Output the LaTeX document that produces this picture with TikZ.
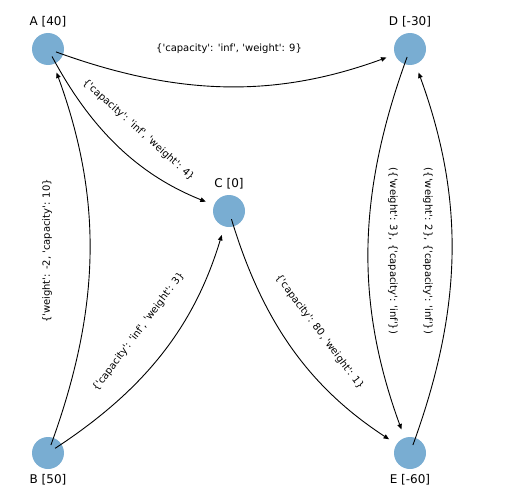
\documentclass[tikz,border=0pt]{standalone}
\usepackage{fontspec}
\setmainfont{DejaVu Sans}[Ligatures=TeXOff]
\usetikzlibrary{arrows.meta}
\definecolor{nodeblue}{RGB}{121,173,210}
\begin{document}
\begin{tikzpicture}[x=1pt,y=-1pt,
  vertex/.style={circle,fill=nodeblue,minimum size=32pt,inner sep=0pt},
  vlabel/.style={font=\fontsize{12}{14}\selectfont,inner sep=0pt},
  elabel/.style={font=\fontsize{10}{12}\selectfont,inner sep=0pt},
  edge/.style={draw=black,line width=0.9pt,-{Triangle[length=5.5pt,width=4.5pt]},
    shorten <=8.5pt,shorten >=25pt,bend right=20}]
\useasboundingbox (0,0) rectangle (516,503);
% nodes
\node[vertex] (A) at (48,49) {};
\node[vertex] (D) at (410,49) {};
\node[vertex] (C) at (229,211) {};
\node[vertex] (B) at (48,453) {};
\node[vertex] (E) at (410,453) {};
% node labels
\node[vlabel] (lA) at (48,22) {A [40]};
\node[vlabel] (lD) at (410,22) {D [-30]};
\node[vlabel] (lC) at (229,184) {C [0]};
\node[vlabel] (lB) at (48,480) {B [50]};
\node[vlabel] (lE) at (410,480) {E [-60]};
% edges
\draw[edge] (A.center) to (D.center);
\draw[edge] (A.center) to (C.center);
\draw[edge] (B.center) to (A.center);
\draw[edge] (B.center) to (C.center);
\draw[edge] (C.center) to (E.center);
\draw[edge] (D.center) to (E.center);
\draw[edge] (E.center) to (D.center);
% edge labels
\node[elabel] (tAD) at (229,49) {\{'capacity': 'inf', 'weight': 9\}};
\node[elabel,rotate=-41.8] (tAC) at (138.5,130) {\{'capacity': 'inf', 'weight': 4\}};
\node[elabel,rotate=90] (tBA) at (47,251) {\{'weight': -2, 'capacity': 10\}};
\node[elabel,rotate=53.2] (tBC) at (138.5,332) {\{'capacity': 'inf', 'weight': 3\}};
\node[elabel,rotate=-53.2] (tCE) at (319.5,332) {\{'capacity': 80, 'weight': 1\}};
\node[elabel,rotate=-90] (tDE) at (393,251) {(\{'weight': 3\}, \{'capacity': 'inf'\})};
\node[elabel,rotate=-90] (tED) at (428,251) {(\{'weight': 2\}, \{'capacity': 'inf'\})};
\end{tikzpicture}
\end{document}
